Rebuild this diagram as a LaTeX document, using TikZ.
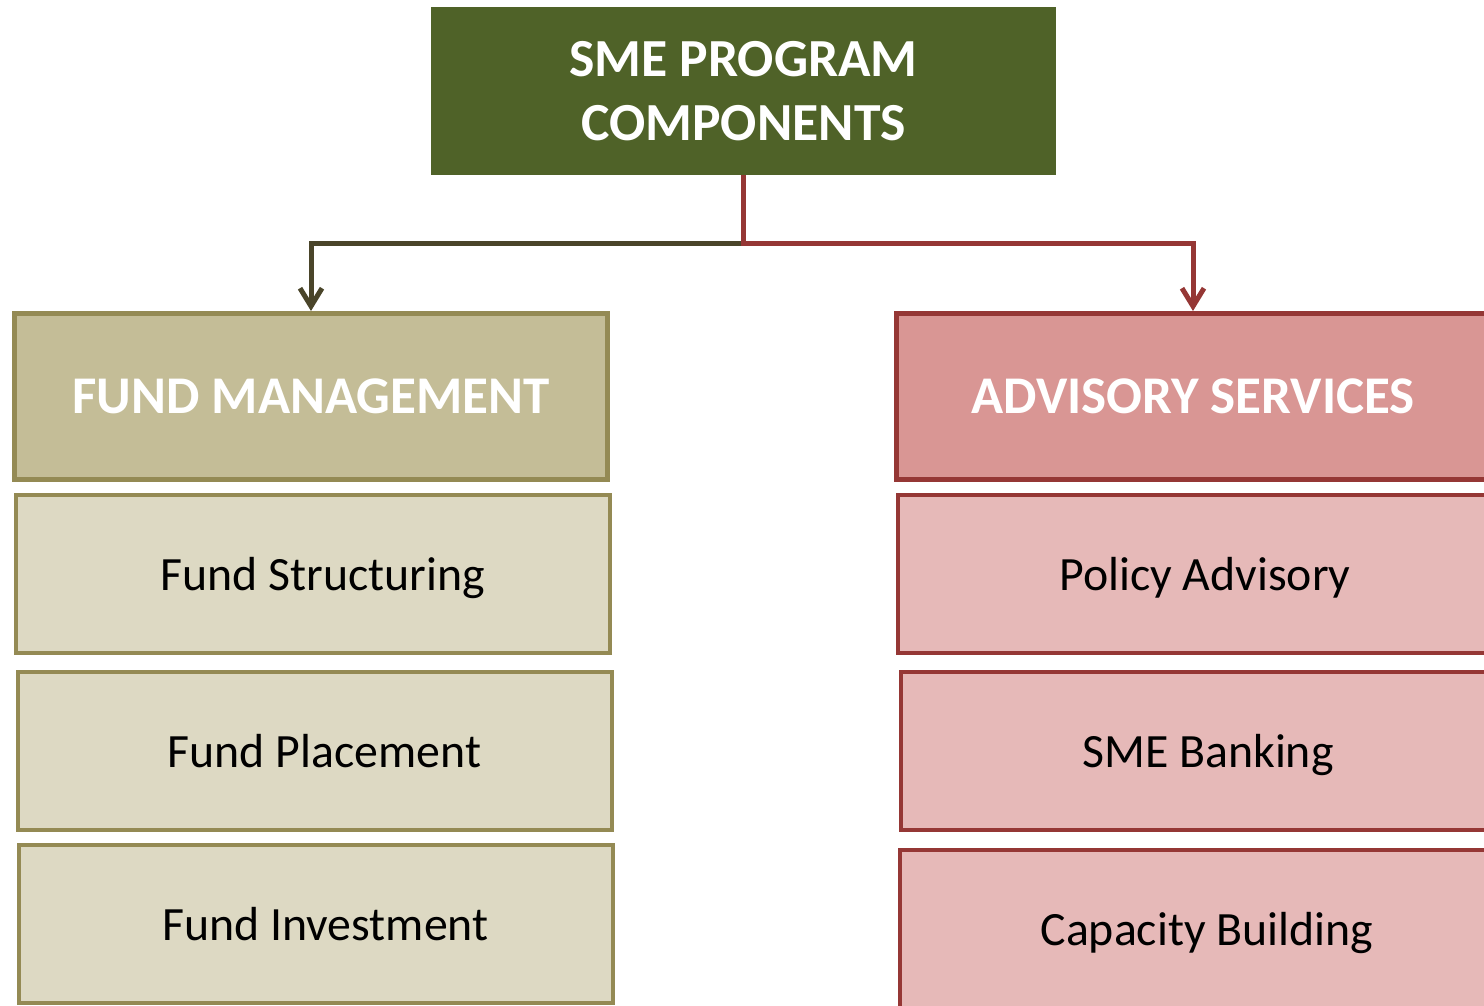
\documentclass[tikz,border=0pt]{standalone}
\usepackage{fontspec}
\setmainfont{Carlito}
\usepackage{tikz}
\usetikzlibrary{arrows.meta}

\definecolor{titlegreen}{HTML}{4F6228}
\definecolor{oliveline}{HTML}{4A452A}
\definecolor{redline}{HTML}{953735}
\definecolor{tanborder}{HTML}{948A54}
\definecolor{tanhead}{HTML}{C4BD97}
\definecolor{tanitem}{HTML}{DDD9C3}
\definecolor{pinkhead}{HTML}{D99694}
\definecolor{pinkitem}{HTML}{E6B9B8}

\begin{document}
\begin{tikzpicture}[x=0.5pt,y=-0.5pt]
\tikzstyle{box}=[rectangle, inner sep=0pt, align=center]
\tikzstyle{top}=[box, fill=titlegreen, text=white, font=\bfseries\fontsize{26.8}{32}\selectfont,
  minimum width=312.5pt, minimum height=84pt]
\tikzstyle{head}=[box, line width=2.5pt, text=white, font=\bfseries\fontsize{26.5}{32}\selectfont,
  minimum width=296.5pt, minimum height=83pt, text height=20pt, text depth=3pt]
\tikzstyle{item}=[box, line width=2pt, font=\fontsize{23.9}{28}\selectfont,
  minimum width=297pt, minimum height=79pt, text height=21pt, text depth=4.5pt,
  execute at begin node={\hspace*{10pt}}]
\tikzstyle{conn}=[line width=2.5pt, -{Straight Barb[length=9pt,width=11pt]}]
\path[use as bounding box] (0,0) rectangle (1484,1006);
\clip (0,0) rectangle (1484,1006);

\node[top] (sme) at (743.5,91) {SME PROGRAM\\COMPONENTS};

% left column
\node[head, draw=tanborder, fill=tanhead] (fm) at (311,396.5) {FUND MANAGEMENT};
\node[item, draw=tanborder, fill=tanitem] (fs) at (313,573.5) {Fund Structuring};
\node[item, draw=tanborder, fill=tanitem] (fp) at (314.5,751) {Fund Placement};
\node[item, draw=tanborder, fill=tanitem] (fi) at (315.5,923.5) {Fund Investment};

% right column
\node[head, draw=redline, fill=pinkhead] (as) at (1193,396.5) {ADVISORY SERVICES};
\node[item, draw=redline, fill=pinkitem] (pa) at (1195,573.5) {Policy Advisory};
\node[item, draw=redline, fill=pinkitem] (sb) at (1198,751) {SME Banking};
\node[item, draw=redline, fill=pinkitem] (cb) at (1197,928.5) {Capacity Building};

\coordinate (split) at (743.5,243);
\draw[conn, oliveline] (split) -| (fm.north);
\draw[conn, redline] (sme.south) -- (split) -| (as.north);
\end{tikzpicture}
\end{document}
